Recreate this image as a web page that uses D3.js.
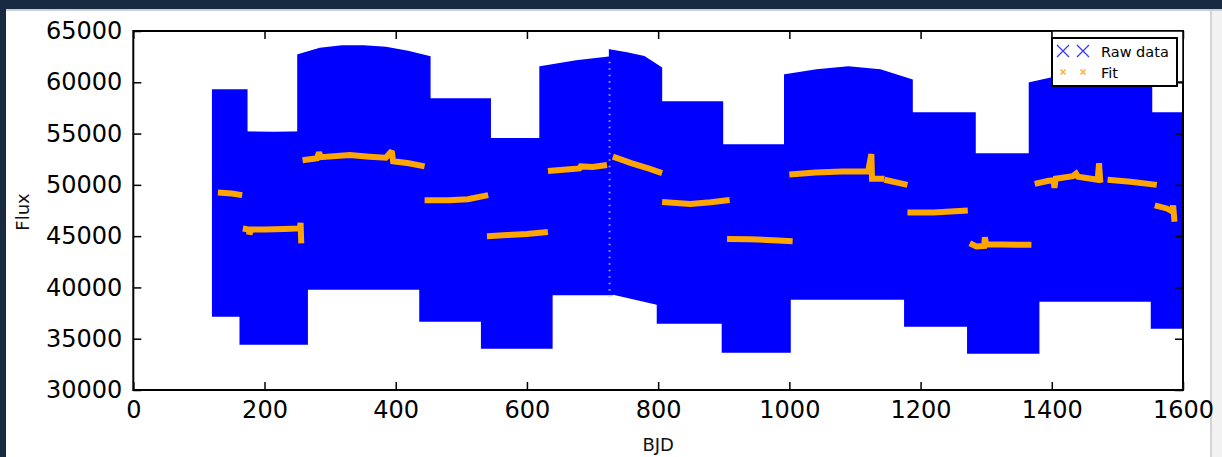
<!DOCTYPE html>
<html><head><meta charset="utf-8">
<script src="https://cdn.jsdelivr.net/npm/d3@7/dist/d3.min.js"></script>
<style>html,body{margin:0;padding:0;background:#fff;}svg{display:block;font-family:"DejaVu Sans",sans-serif;}</style>
</head><body><svg id="c" width="1222" height="457"></svg>
<script>
// Raw data blocks (Kepler quarters): start/end BJD, top flux profile (evenly spaced), bottom flux at start/end
const rawStart  = [121, 163, 251, 437, 531, 620, 726, 799, 898, 993, 1176, 1272, 1366, 1552];
const rawEnd    = [173, 265, 452, 544, 638, 730, 805, 898, 1001, 1187, 1283, 1380, 1552, 1600];
const rawTop    = [
  [59250,59250],
  [55150,55100,55150],
  [62660,63300,63540,63540,63400,63000,62470],
  [58370,58370],
  [54500,54500],
  [61490,62080,62470],
  [63150,62850,62500,61400],
  [58080,58080],
  [53890,53890],
  [60710,61200,61490,61200,60220],
  [57010,57010],
  [53010,53010],
  [59930,60600,61000,61000,60800],
  [57010,57010]
];
const rawBottom = [[37215,37215],[34490,34490],[39850,39850],[36730,36730],[34100,34100],[39300,39300],[39450,38290],[36530,36530],[33710,33710],[38870,38870],[36240,36240],[33610,33610],[38680,38680],[36045,36045]];
// sparse gap between quarters (white specks)
const gapBJD = [726];

// Fit segments: [BJD, flux] points
const fitSegments = [
  [[129,49250],[150,49150],[166,49000]],
  [[167,45750],[176,45650],[177,45200],[180,45650],[200,45650],[230,45700],[254,45750],[255,46300],[256,44300]],
  [[258,52400],[280,52600],[283,53150],[286,52700],[330,52900],[360,52750],[385,52650],[394,53300],[396,52300],[420,52100],[444,51800]],
  [[444,48500],[480,48500],[510,48600],[541,49000]],
  [[539,45000],[570,45100],[600,45200],[632,45400]],
  [[632,51350],[660,51500],[680,51600],[682,51800],[700,51750],[722,51940]],
  [[731,52750],[760,52100],[785,51600],[806,51150]],
  [[806,48330],[849,48130],[880,48300],[909,48520]],
  [[905,44720],[940,44700],[975,44600],[1005,44500]],
  [[1000,51000],[1040,51200],[1080,51300],[1120,51300],[1125,53000],[1126,50600],[1145,50600]],
  [[1145,50500],[1180,50000]],
  [[1180,47300],[1220,47300],[1272,47500]],
  [[1275,44300],[1285,44000],[1297,44050],[1298,44900],[1300,44200],[1369,44150]],
  [[1374,50100],[1395,50400],[1403,50450],[1404,49700],[1406,50600],[1432,50850],[1437,51100],[1440,50800],[1470,50500],[1472,52100],[1474,50200]],
  [[1485,50500],[1520,50300],[1560,50000]],
  [[1557,48000],[1575,47700],[1584,47400],[1585,48000],[1587,46400]]
];

const xTicks = [0,200,400,600,800,1000,1200,1400,1600];
const yTicks = [30000,35000,40000,45000,50000,55000,60000,65000];

const svg = d3.select("#c");
const L=133.3, R=1183, T=31, B=390;
const x = d3.scaleLinear().domain([0,1600]).range([L,R]);
const y = d3.scaleLinear().domain([30000,65000]).range([B,T]);

// window frame
svg.append("rect").attr("x",0).attr("y",0).attr("width",1222).attr("height",457).attr("fill","#ffffff");
svg.append("rect").attr("x",1210).attr("y",0).attr("width",12).attr("height",457).attr("fill","#f2f2f2");
svg.append("rect").attr("x",1210).attr("y",0).attr("width",2).attr("height",457).attr("fill","#d4d4d4");
svg.append("rect").attr("x",0).attr("y",9).attr("width",1222).attr("height",2).attr("fill","#c9ced4");
svg.append("rect").attr("x",0).attr("y",0).attr("width",1222).attr("height",9).attr("fill","#172a40");
svg.append("rect").attr("x",0).attr("y",0).attr("width",6).attr("height",457).attr("fill","#172a40");

svg.append("clipPath").attr("id","clip").append("rect").attr("x",L).attr("y",T).attr("width",R-L).attr("height",B-T);
const g = svg.append("g").attr("clip-path","url(#clip)");

// raw data blocks
const blockLine = d3.line().x(d=>x(d[0])).y(d=>y(d[1])).curve(d3.curveLinearClosed);
rawStart.forEach((s,i)=>{
  const e = rawEnd[i], n = rawTop[i].length;
  const tops = rawTop[i].map((v,k)=>[s+(e-s)*k/(n-1), v]);
  const bots = [[e,rawBottom[i][1]],[s,rawBottom[i][0]]];
  g.append("path")
    .attr("d", blockLine(tops.concat(bots)))
    .attr("fill","#0000ff").attr("stroke","#0000ff").attr("stroke-width",1.5);
});
// white specks in the quarter gap
gapBJD.forEach(b=>{
  g.append("line").attr("x1",x(b)).attr("x2",x(b)).attr("y1",y(62000)).attr("y2",y(39000))
    .attr("stroke","#c8c8ff").attr("stroke-width",2).attr("stroke-dasharray","1.5 5").attr("opacity",0.8);
});

// fit
const fitLine = d3.line().x(d=>x(d[0])).y(d=>y(d[1]));
fitSegments.forEach(seg=>{
  g.append("path").attr("d",fitLine(seg)).attr("fill","none")
    .attr("stroke","#ffa500").attr("stroke-width",6).attr("stroke-linejoin","miter").attr("stroke-miterlimit",2).attr("stroke-linecap","butt");
});

// axes
const ax = svg.append("g");
const bx = ax.append("g").attr("transform",`translate(0,${B})`).call(d3.axisBottom(x).tickValues(xTicks).tickSize(-8).tickPadding(11).tickFormat(d3.format("d")));
const tx = ax.append("g").attr("transform",`translate(0,${T})`).call(d3.axisTop(x).tickValues(xTicks).tickSize(-8).tickFormat(""));
const ly = ax.append("g").attr("transform",`translate(${L},0)`).call(d3.axisLeft(y).tickValues(yTicks).tickSize(-8).tickPadding(11).tickFormat(d3.format("d")));
const ry = ax.append("g").attr("transform",`translate(${R},0)`).call(d3.axisRight(y).tickValues(yTicks).tickSize(-8).tickFormat(""));
[bx,tx,ly,ry].forEach(a=>{
  a.select(".domain").remove();
  a.selectAll(".tick line").attr("stroke","#000").attr("stroke-width",1.5);
  a.selectAll(".tick text").attr("fill","#000").style("font-size","24px").style("font-family","'DejaVu Sans',sans-serif");
});
svg.append("rect").attr("x",L).attr("y",T).attr("width",R-L).attr("height",B-T).attr("fill","none").attr("stroke","#000").attr("stroke-width",2);

// axis labels
svg.append("text").attr("x",(L+R)/2).attr("y",451).attr("text-anchor","middle").style("font-size","18px").attr("fill","#111").text("BJD");
svg.append("text").attr("transform",`translate(29,212) rotate(-90)`).attr("text-anchor","middle").style("font-size","18px").attr("fill","#111").text("Flux");

// legend
svg.append("rect").attr("x",1052).attr("y",T).attr("width",R-1052).attr("height",51).attr("fill","#fff").attr("stroke","#000").attr("stroke-width",1.5);
svg.append("rect").attr("x",1052).attr("y",38).attr("width",125).attr("height",48).attr("fill","#fff").attr("stroke","#000").attr("stroke-width",2);
const legendItems = ["Raw data","Fit"];
const legendColors = ["#3a3aff","#ffb030"];
const legendSize = [6,2.5];
legendItems.forEach((t,i)=>{
  const cy = 51 + i*21;
  [1063,1083].forEach(cx=>{
    const s=legendSize[i];
    svg.append("path").attr("d",`M${cx-s},${cy-s}L${cx+s},${cy+s}M${cx-s},${cy+s}L${cx+s},${cy-s}`)
      .attr("stroke",legendColors[i]).attr("stroke-width",i==0?1.3:1.5).attr("fill","none");
  });
  svg.append("text").attr("x",1101).attr("y",cy+5.5).style("font-size","14.5px").attr("fill","#000").text(t);
});
</script></body></html>
